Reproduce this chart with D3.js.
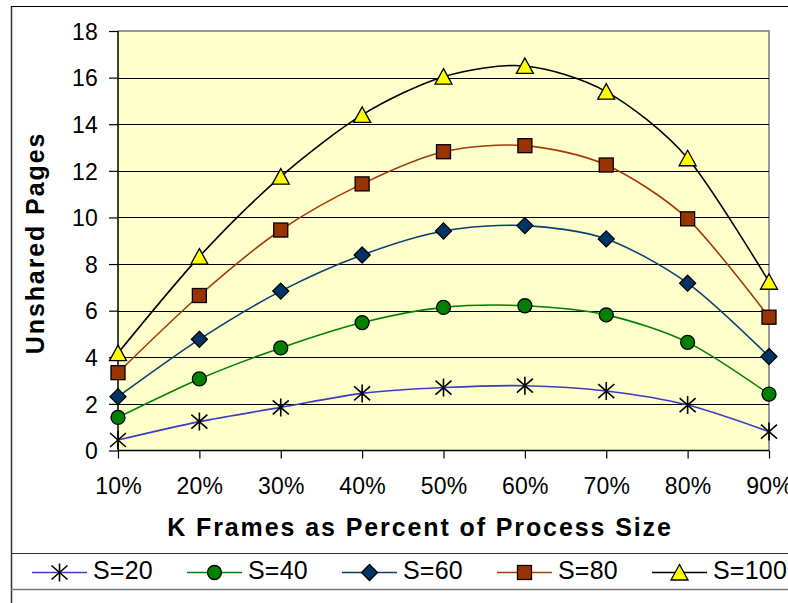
<!DOCTYPE html>
<html>
<head>
<meta charset="utf-8">
<script src="https://cdn.jsdelivr.net/npm/d3@7"></script>
<style>
  html, body { margin: 0; padding: 0; background: #fff; }
  svg { display: block; font-family: "Liberation Sans", Arial, sans-serif; }
</style>
</head>
<body>
<svg id="chart" width="788" height="603"></svg>
<script>
// Unshared pages by K frames (percent of process size), one series per S
const categories = ["10%", "20%", "30%", "40%", "50%", "60%", "70%", "80%", "90%"];
const s20  = [0.45, 1.24, 1.85, 2.45, 2.70, 2.78, 2.55, 1.95, 0.81];
const s40  = [1.42, 3.07, 4.40, 5.49, 6.14, 6.21, 5.82, 4.64, 2.42];
const s60  = [2.31, 4.77, 6.84, 8.39, 9.42, 9.65, 9.08, 7.18, 4.03];
const s80  = [3.34, 6.65, 9.46, 11.44, 12.82, 13.08, 12.25, 9.94, 5.72];
const s100 = [4.18, 8.32, 11.75, 14.40, 16.04, 16.50, 15.40, 12.54, 7.24];
const seriesNames = ["S=20", "S=40", "S=60", "S=80", "S=100"];
const yTicks = [0, 2, 4, 6, 8, 10, 12, 14, 16, 18];

const seriesValues = [s20, s40, s60, s80, s100];
const lineColors = ["#3c3cc0", "#008000", "#0a3f73", "#a33a08", "#000000"];
const markerFills = ["none", "#008000", "#003366", "#993300", "#ffff00"];
const markerKinds = ["star", "circle", "diamond", "square", "triangle"];

const svg = d3.select("#chart");
const plot = { left: 118, top: 31, right: 769, bottom: 450.5 };

const x = d3.scalePoint().domain(categories).range([plot.left, plot.right]);
const y = d3.scaleLinear().domain([0, 18]).range([plot.bottom, plot.top]);

// Outer chart frame and legend box
svg.append("line").attr("x1", 11.5).attr("x2", 11.5).attr("y1", 6).attr("y2", 603)
  .attr("stroke", "#333").attr("stroke-width", 1.5);
svg.append("line").attr("x1", 11).attr("x2", 788).attr("y1", 6.5).attr("y2", 6.5)
  .attr("stroke", "#000").attr("stroke-width", 1.2);
svg.append("line").attr("x1", 11).attr("x2", 788).attr("y1", 553.5).attr("y2", 553.5)
  .attr("stroke", "#333").attr("stroke-width", 1.2);
svg.append("line").attr("x1", 11).attr("x2", 788).attr("y1", 589.5).attr("y2", 589.5)
  .attr("stroke", "#777").attr("stroke-width", 1.5);

// Plot area
svg.append("rect")
  .attr("x", plot.left).attr("y", plot.top)
  .attr("width", plot.right - plot.left).attr("height", plot.bottom - plot.top)
  .attr("fill", "#ffffcc");
svg.append("path")
  .attr("d", `M${plot.left},${plot.top} H${plot.right} V${plot.bottom}`)
  .attr("fill", "none").attr("stroke", "#999").attr("stroke-width", 2);

// Horizontal gridlines
svg.append("g").selectAll("line")
  .data(yTicks.filter(d => d > 0 && d < 18))
  .join("line")
  .attr("x1", plot.left).attr("x2", plot.right)
  .attr("y1", d => Math.round(y(d)) + 0.5).attr("y2", d => Math.round(y(d)) + 0.5)
  .attr("stroke", "#000").attr("stroke-width", 1);

// Axes
const yAxis = svg.append("g")
  .attr("transform", `translate(${plot.left},0)`)
  .call(d3.axisLeft(y).tickValues(yTicks).tickSize(9).tickPadding(11));
const xAxis = svg.append("g")
  .attr("transform", `translate(0,${plot.bottom})`)
  .call(d3.axisBottom(x).tickSize(8).tickPadding(19));

[yAxis, xAxis].forEach(g => {
  g.select(".domain").attr("stroke", "#000").attr("stroke-width", 1.5);
  g.selectAll(".tick line").attr("stroke", "#000").attr("stroke-width", 1.2);
  g.selectAll(".tick text")
    .attr("fill", "#000")
    .style("font-size", "23px")
    .style("letter-spacing", "0.2px")
    .style("font-family", '"Liberation Sans", Arial, sans-serif');
});
yAxis.select(".domain").attr("d", `M0,${plot.top}V${plot.bottom}`);
xAxis.select(".domain").attr("d", `M${plot.left},0H${plot.right}`);
yAxis.selectAll(".tick text").attr("dy", "0.36em");

// Axis titles
svg.append("text")
  .attr("x", 420).attr("y", 536)
  .attr("text-anchor", "middle")
  .style("font-size", "25px").style("font-weight", "bold").style("letter-spacing", "1.9px")
  .text("K Frames as Percent of Process Size");
svg.append("text")
  .attr("transform", "translate(44,243) rotate(-90)")
  .attr("text-anchor", "middle")
  .style("font-size", "25px").style("font-weight", "bold").style("letter-spacing", "1.9px")
  .text("Unshared Pages");

// Marker drawing
function drawMarker(sel, kind, fill) {
  if (kind === "star") {
    sel.append("path")
      .attr("d", "M-8,-7L8,7M-8,7L8,-7M0,-9V9")
      .attr("stroke", "#000").attr("stroke-width", 1.6).attr("fill", "none");
  } else if (kind === "circle") {
    sel.append("circle").attr("r", 7)
      .attr("fill", fill).attr("stroke", "#000").attr("stroke-width", 1.3);
  } else if (kind === "diamond") {
    sel.append("path").attr("d", "M0,-8L8,0L0,8L-8,0Z")
      .attr("fill", fill).attr("stroke", "#000").attr("stroke-width", 1.3);
  } else if (kind === "square") {
    sel.append("rect").attr("x", -7).attr("y", -7).attr("width", 14).attr("height", 14)
      .attr("fill", fill).attr("stroke", "#000").attr("stroke-width", 1.3);
  } else if (kind === "triangle") {
    sel.append("path").attr("d", "M0,-8L8.5,7.5H-8.5Z")
      .attr("fill", fill).attr("stroke", "#000").attr("stroke-width", 1.3);
  }
}

const line = d3.line()
  .x((d, i) => x(categories[i]))
  .y(d => y(d))
  .curve(d3.curveCardinal.tension(0.15));

// Series lines, then markers on top
const seriesG = svg.append("g");
seriesValues.forEach((vals, si) => {
  seriesG.append("path")
    .datum(vals)
    .attr("d", line)
    .attr("fill", "none")
    .attr("stroke", lineColors[si])
    .attr("stroke-width", 1.6);
});
seriesValues.forEach((vals, si) => {
  vals.forEach((v, i) => {
    const g = seriesG.append("g").attr("transform", `translate(${x(categories[i])},${y(v)})`);
    drawMarker(g, markerKinds[si], markerFills[si]);
  });
});

// Legend
const legend = svg.append("g");
seriesNames.forEach((name, si) => {
  const lx = 32 + si * 155;
  const ly = 572.5;
  legend.append("line")
    .attr("x1", lx).attr("x2", lx + 55).attr("y1", ly).attr("y2", ly)
    .attr("stroke", lineColors[si]).attr("stroke-width", 1.6);
  const g = legend.append("g").attr("transform", `translate(${lx + 27.5},${ly})`);
  drawMarker(g, markerKinds[si], markerFills[si]);
  legend.append("text")
    .attr("x", lx + 61).attr("y", 578.5)
    .style("font-size", "25px").style("letter-spacing", "0.2px")
    .text(name);
});
</script>
</body>
</html>
